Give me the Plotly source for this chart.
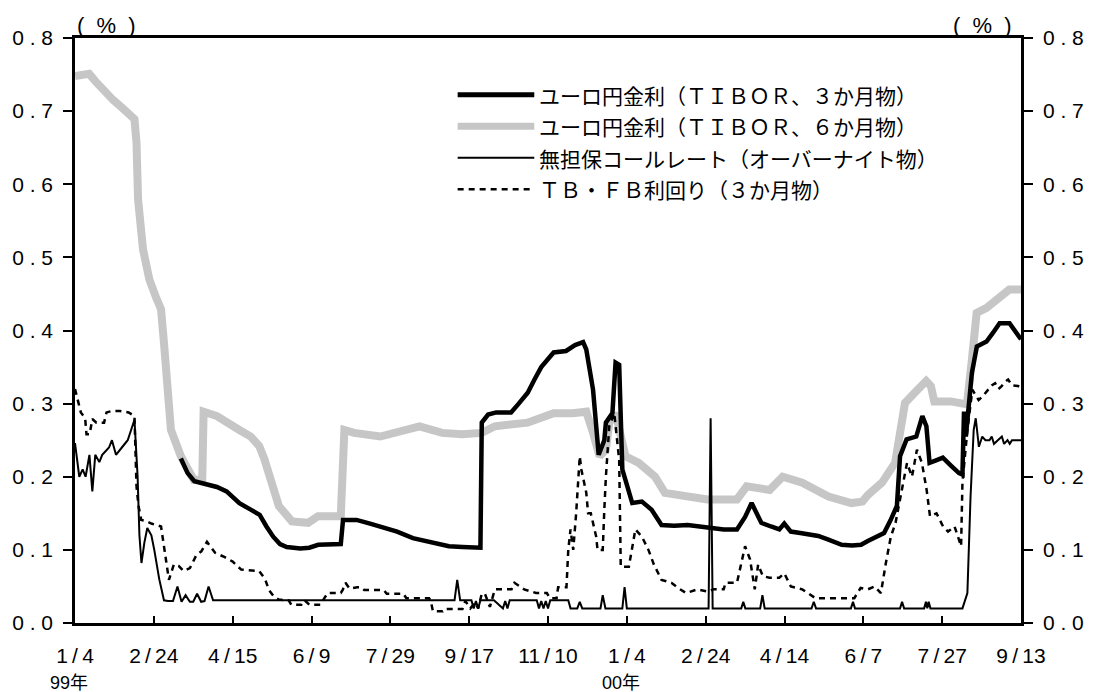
import plotly.graph_objects as go

# x positions are business-day counts from 1999-01-04 (axis ticks every 35 business days)
tick_idx = [0, 35, 70, 105, 140, 175, 210, 245, 280, 315, 350, 385, 420]
tick_labels = ["1/4", "2/24", "4/15", "6/9", "7/29", "9/17", "11/10",
               "1/4", "2/24", "4/14", "6/7", "7/27", "9/13"]
year_labels = ["99年", "00年"]
year_idx = [0, 245]
y_ticks = [0.0, 0.1, 0.2, 0.3, 0.4, 0.5, 0.6, 0.7, 0.8]

series_names = [
    "ユーロ円金利（ＴＩＢＯＲ、３か月物）",
    "ユーロ円金利（ＴＩＢＯＲ、６か月物）",
    "無担保コールレート（オーバーナイト物）",
    "ＴＢ・ＦＢ利回り（３か月物）",
]

# Euro-yen TIBOR 6M
tibor6_x = [0, 3, 6.3, 9, 13.4, 17, 20.8, 24, 26.4, 27.3, 28, 30.2, 33, 36, 38.2, 39.5, 41, 42.6,
            47, 52.7, 56.5, 57.1, 63, 68, 73, 78, 81.8, 84, 86.1, 90.5, 96.3, 103.5, 107.9, 118,
            119.6, 124, 135.5, 142.8, 153, 163, 171.8, 180.6, 186.4, 200.9, 212.5, 221, 227, 230,
            232.9, 235.7, 237.2, 240, 243, 244.4, 250.3, 257.5, 261.9, 272, 280.8, 293.9, 298.2,
            308.4, 314.2, 322.9, 334.5, 344.7, 349.6, 352, 358.3, 364.1, 366, 368.5, 372.8, 377.9,
            380, 381.5, 388.8, 396, 398.2, 400.3, 404.7, 410.5, 414.8, 420]
tibor6_y = [0.748, 0.75, 0.751, 0.741, 0.725, 0.715, 0.705, 0.697, 0.689, 0.657, 0.579, 0.511, 0.47,
            0.445, 0.429, 0.383, 0.32, 0.264, 0.228, 0.196, 0.196, 0.289, 0.283, 0.275, 0.264, 0.255,
            0.242, 0.225, 0.206, 0.16, 0.139, 0.137, 0.146, 0.146, 0.264, 0.26, 0.255, 0.26, 0.269,
            0.26, 0.258, 0.26, 0.269, 0.274, 0.287, 0.287, 0.289, 0.26, 0.228, 0.237, 0.274, 0.287,
            0.251, 0.228, 0.219, 0.2, 0.178, 0.173, 0.169, 0.169, 0.187, 0.182, 0.2, 0.192, 0.173,
            0.164, 0.166, 0.175, 0.192, 0.219, 0.26, 0.301, 0.315, 0.331, 0.324, 0.303, 0.303, 0.299,
            0.36, 0.424, 0.431, 0.447, 0.456, 0.456]

# Euro-yen TIBOR 3M
tibor3_x = [47, 50, 53, 58.6, 63, 67.3, 73, 78, 82, 85, 88, 91, 94, 100, 104, 108, 118, 119, 125,
            131, 137, 143, 150, 156, 160, 166, 172, 180, 180.6, 183.4, 187, 193.6, 197, 201, 204,
            207, 212.5, 218, 222, 225.6, 227, 230, 232.5, 235, 235.7, 238.6, 240, 241.6, 243, 247.4,
            251.7, 256, 260.4, 266, 272, 280.8, 288, 293.9, 297.5, 300.4, 302.5, 304.7, 309, 312.7,
            314.9, 317.8, 322, 325.8, 330, 334.5, 340.4, 345, 349, 352, 356, 359.2, 362, 364.9,
            366.3, 369.2, 373.5, 376.2, 378, 379.4, 382, 385.3, 389, 392.5, 394, 394.7, 395.5,
            398.2, 400.4, 404.7, 407.6, 410.5, 414.9, 417, 420]
tibor3_y = [0.225, 0.205, 0.194, 0.189, 0.186, 0.18, 0.164, 0.155, 0.148, 0.132, 0.118, 0.108,
            0.104, 0.102, 0.103, 0.107, 0.108, 0.141, 0.141, 0.136, 0.131, 0.125, 0.116, 0.112,
            0.109, 0.105, 0.104, 0.103, 0.274, 0.285, 0.288, 0.288, 0.3, 0.315, 0.333, 0.35, 0.37,
            0.372, 0.38, 0.384, 0.374, 0.319, 0.23, 0.25, 0.274, 0.287, 0.356, 0.353, 0.21, 0.164,
            0.166, 0.155, 0.134, 0.133, 0.134, 0.13, 0.128, 0.128, 0.145, 0.164, 0.15, 0.137, 0.132,
            0.128, 0.136, 0.125, 0.123, 0.121, 0.119, 0.114, 0.107, 0.106, 0.107, 0.112, 0.118,
            0.123, 0.14, 0.16, 0.228, 0.251, 0.255, 0.283, 0.269, 0.219, 0.222, 0.226, 0.215, 0.205,
            0.203, 0.289, 0.255, 0.342, 0.378, 0.385, 0.397, 0.41, 0.41, 0.4, 0.388]

# uncollateralized overnight call rate
call_x = [0, 1.9, 3.4, 4.7, 6.4, 7.7, 9, 10.8, 12.1, 15.1, 16.4, 18.2, 20.8, 23.4, 26.4, 27.8,
          28.6, 29.5, 30.8, 32.1, 33.9, 35.2, 37.4, 39.5, 41.3, 43.5, 45.5, 47.3, 49.1, 51, 52.5,
          54.2, 56, 57.5, 59.3, 61.3, 168.5, 169.7, 171, 176, 177, 178, 179, 180, 186, 190, 191,
          192, 193, 205, 206, 207, 208, 209, 210, 211, 219, 220, 223, 224.1, 225.2, 233.3, 234.3,
          235.5, 243, 244, 245, 281.3, 282.2, 283.1, 295.8, 296.7, 297.6, 304.2, 305.2, 306.2,
          327, 328, 329, 344.5, 345.4, 346.3, 366.3, 367.2, 368.1, 377, 377.8, 378.4, 379, 379.8,
          394, 396.2, 397.6, 399, 399.9, 401.3, 402.8, 404.2, 406, 407, 408, 410, 411.5, 412.5,
          414, 415, 416, 420]
call_y = [0.246, 0.2, 0.21, 0.2, 0.23, 0.18, 0.23, 0.22, 0.23, 0.24, 0.25, 0.23, 0.24, 0.25,
          0.278, 0.2, 0.12, 0.082, 0.11, 0.13, 0.12, 0.1, 0.06, 0.031, 0.03, 0.03, 0.05, 0.029,
          0.038, 0.029, 0.029, 0.04, 0.029, 0.03, 0.05, 0.031, 0.031, 0.059, 0.031, 0.031, 0.02,
          0.03, 0.02, 0.031, 0.031, 0.02, 0.03, 0.02, 0.031, 0.031, 0.02, 0.03, 0.02, 0.03, 0.02,
          0.031, 0.031, 0.02, 0.02, 0.029, 0.02, 0.02, 0.038, 0.02, 0.02, 0.049, 0.02, 0.02, 0.28,
          0.02, 0.02, 0.029, 0.02, 0.02, 0.038, 0.02, 0.02, 0.029, 0.02, 0.02, 0.029, 0.02, 0.02,
          0.029, 0.02, 0.02, 0.029, 0.02, 0.029, 0.02, 0.02, 0.041, 0.173, 0.264, 0.28, 0.241,
          0.255, 0.25, 0.25, 0.255, 0.245, 0.25, 0.255, 0.245, 0.25, 0.245, 0.25, 0.25]

# TB/FB 3M yield
tb_x = [0, 1.5, 2.6, 4.5, 5.1, 6.5, 7.7, 9.5, 12.9, 14, 16.4, 20, 23.8, 26.4, 27.3, 28.2, 29.4, 31,
        33.9, 38.2, 39.7, 41.7, 43.9, 46, 48.2, 51, 53.9, 56.1, 58.6, 62.2, 66.5, 70, 73.8, 78,
        81.8, 84.4, 86.1, 88.3, 90.5, 94.9, 96, 100.5, 102, 104, 109, 110.9, 112.3, 118, 118.8,
        120.1, 121.9, 125.4, 126.7, 128.4, 137.1, 138.4, 145.8, 147.1, 157.2, 158, 158.9, 163.3,
        164, 172, 173.3, 175.5, 177.7, 179, 180.6, 182, 184.2, 186.4, 193.8, 195.1, 197.2, 199.4,
        204.7, 209.5, 210.8, 213.8, 214.5, 218.2, 219, 220, 221.2, 222.5, 224.1, 224.8, 227,
        227.8, 229, 231.4, 232, 234.3, 235, 235.7, 237.2, 239.4, 241.6, 242.3, 245.9, 248.8,
        251.7, 254.6, 257, 260.4, 264.8, 267.7, 271.3, 276.4, 280.8, 283.5, 288, 288.8, 293.9,
        297.5, 299.7, 301.8, 303.3, 305.4, 308.3, 312.7, 314.9, 317.8, 322.9, 328.7, 340.3, 346,
        348.8, 352, 355, 357.8, 360, 362.2, 364.3, 366.5, 369.4, 371.6, 373.8, 376, 378.1, 379.6,
        382.5, 385.4, 387.6, 390.5, 393.4, 394, 396.2, 398.4, 401.2, 403, 405.6, 407, 408.5, 410,
        411.4, 413, 414.3, 416, 418.7, 420]
tb_y = [0.32, 0.3, 0.288, 0.28, 0.258, 0.258, 0.279, 0.274, 0.274, 0.288, 0.29, 0.29, 0.288, 0.283,
        0.187, 0.16, 0.141, 0.14, 0.136, 0.132, 0.1, 0.059, 0.08, 0.078, 0.071, 0.075, 0.093, 0.098,
        0.111, 0.096, 0.09, 0.084, 0.073, 0.072, 0.071, 0.06, 0.045, 0.036, 0.032, 0.031, 0.025,
        0.025, 0.031, 0.025, 0.025, 0.035, 0.041, 0.041, 0.045, 0.055, 0.047, 0.049, 0.049, 0.045,
        0.045, 0.04, 0.04, 0.034, 0.034, 0.03, 0.016, 0.016, 0.019, 0.019, 0.03, 0.02, 0.028, 0.02,
        0.04, 0.04, 0.022, 0.046, 0.046, 0.055, 0.05, 0.046, 0.041, 0.041, 0.034, 0.034, 0.049,
        0.049, 0.1, 0.128, 0.1, 0.15, 0.228, 0.21, 0.178, 0.15, 0.15, 0.118, 0.1, 0.1, 0.155, 0.2,
        0.269, 0.287, 0.223, 0.077, 0.077, 0.128, 0.118, 0.1, 0.08, 0.059, 0.055, 0.048, 0.041,
        0.046, 0.043, 0.046, 0.046, 0.055, 0.055, 0.105, 0.087, 0.046, 0.08, 0.064, 0.062, 0.062,
        0.068, 0.05, 0.046, 0.034, 0.034, 0.034, 0.048, 0.046, 0.05, 0.041, 0.082, 0.118, 0.137,
        0.173, 0.219, 0.2, 0.237, 0.219, 0.182, 0.146, 0.15, 0.132, 0.125, 0.132, 0.105, 0.192,
        0.264, 0.319, 0.305, 0.31, 0.319, 0.325, 0.328, 0.32, 0.324, 0.33, 0.333, 0.325, 0.324,
        0.322]

GRAY = "#c6c6c6"
LATIN = "Liberation Sans, Arial, sans-serif"
JP = "Noto Sans CJK JP, sans-serif"

fig = go.Figure()
fig.add_trace(go.Scatter(x=tibor6_x, y=tibor6_y, mode="lines", line=dict(color=GRAY, width=8)))
fig.add_trace(go.Scatter(x=tibor3_x, y=tibor3_y, mode="lines", line=dict(color="black", width=4.5)))
fig.add_trace(go.Scatter(x=call_x, y=call_y, mode="lines", line=dict(color="black", width=2)))
# TB drawn last, on the right-hand axis (same range) so that axis gets rendered
fig.add_trace(go.Scatter(x=tb_x, y=tb_y, mode="lines", yaxis="y2",
                         line=dict(color="black", width=2.5, dash="6px,5px")))

# legend drawn by hand so the line samples are long like in the original
leg_styles = [dict(color="black", width=5), dict(color=GRAY, width=7),
              dict(color="black", width=2), dict(color="black", width=2.5, dash="6px,5px")]
leg_y = [0.9031, 0.8492, 0.7954, 0.7415]
for name, st, yy in zip(series_names, leg_styles, leg_y):
    fig.add_shape(type="line", xref="paper", yref="paper", x0=0.4045, x1=0.4855,
                  y0=yy, y1=yy, line=st)
    fig.add_annotation(text=name, xref="paper", yref="paper", x=0.4885, y=yy,
                       xanchor="left", yanchor="middle", showarrow=False,
                       font=dict(family=JP, size=21, color="black"))

for lab, xi in zip(year_labels, year_idx):
    fig.add_annotation(text=lab, x=xi, xref="x", yref="paper", y=-0.102, xshift=-6,
                       yanchor="middle", showarrow=False,
                       font=dict(family="Liberation Sans, Noto Sans CJK JP", size=18, color="black"))

for xp in [0.0332, 0.9595]:
    fig.add_annotation(text="(\u00a0\u00a0%\u00a0\u00a0)", xref="paper", yref="paper", x=xp, y=1.022,
                       xanchor="center", yanchor="middle", showarrow=False,
                       font=dict(family=LATIN, size=22, color="black"))

ytext = [" . ".join(f"{v:.1f}".split(".")) for v in y_ticks]
xtext = [t.replace("/", "\u2009/\u2009") for t in tick_labels]

yax = dict(range=[0, 0.8], tickvals=y_ticks, ticktext=ytext, showgrid=False, zeroline=False,
           showline=True, linecolor="black", linewidth=2.5, ticks="outside", ticklen=9,
           tickwidth=2, tickcolor="black", ticklabelstandoff=6,
           tickfont=dict(family=LATIN, size=21, color="black"))

fig.update_layout(
    width=1096, height=692,
    margin=dict(l=72, r=60, t=38, b=69),
    paper_bgcolor="white", plot_bgcolor="white",
    showlegend=False,
    xaxis=dict(range=[0, 420], tickvals=tick_idx, ticktext=xtext, showgrid=False,
               zeroline=False, showline=True, mirror=True, linecolor="black", linewidth=2.5,
               ticks="inside", ticklen=7, tickwidth=2, tickcolor="black",
               ticklabelstandoff=12,
               tickfont=dict(family=LATIN, size=21, color="black")),
    yaxis=yax,
    yaxis2=dict(yax, overlaying="y", side="right"),
)

fig.write_html("out.html", config={"displayModeBar": False},
               post_script="document.body.style.margin='0';")
